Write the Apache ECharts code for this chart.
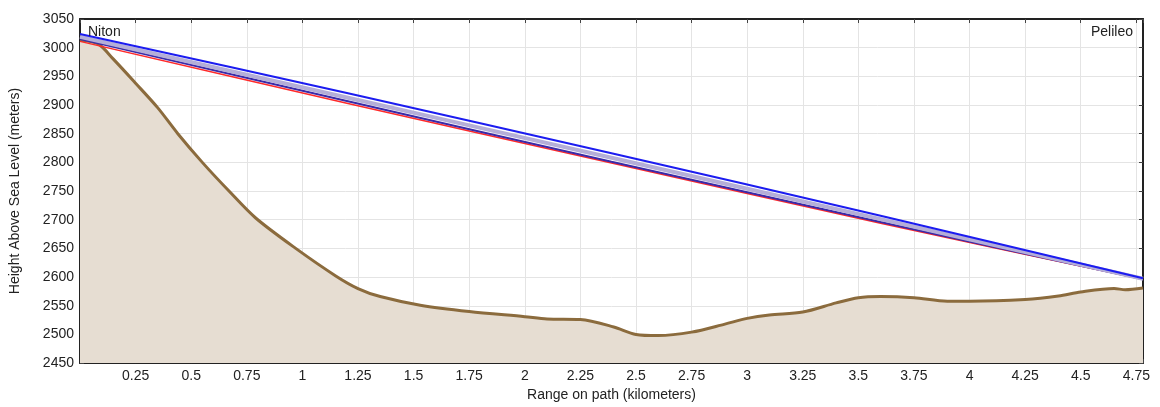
<!DOCTYPE html>
<html>
<head>
<meta charset="utf-8">
<script src="https://cdn.jsdelivr.net/npm/echarts@6/dist/echarts.min.js"></script>
<style>
  html, body { margin: 0; padding: 0; background: #fff; }
  #chart { width: 1160px; height: 407px; }
</style>
</head>
<body>
<div id="chart"></div>
<script>
// terrain profile along the path (km, metres)
const terrainKm = [0, 0.08, 0.15, 0.25, 0.35, 0.44, 0.55, 0.67, 0.79, 0.97, 1.15, 1.25, 1.35, 1.53, 1.75, 2.0, 2.1, 2.25, 2.4, 2.5, 2.6, 2.75, 2.9, 3.0, 3.1, 3.25, 3.4, 3.5, 3.6, 3.75, 3.9, 4.0, 4.25, 4.4, 4.5, 4.65, 4.7, 4.78];
const terrainHeight = [3013, 3007, 2980, 2938, 2895, 2850, 2800, 2750, 2703, 2650, 2602, 2580, 2566, 2551, 2540, 2531, 2527, 2526, 2513, 2500, 2498, 2504, 2518, 2528, 2534, 2539, 2555, 2564, 2566, 2564, 2558, 2558, 2561, 2567, 2574, 2580, 2578, 2581];

// radio path lines, read at five points along the path
const pathKm = [0, 1.2, 2.39, 3.6, 4.78];
const upperBlue = [3024, 2921, 2816, 2707, 2598];
const middleBand = [3019, 2913, 2808, 2701, 2597];
const lowerBlue = [3015, 2907, 2801, 2696, 2596];
const redLine = [3011, 2903, 2799, 2694, 2596];

const siteNames = ['Niton', 'Pelileo'];

const zip = (xs, ys) => xs.map((x, i) => [x, ys[i]]);

const chart = echarts.init(document.getElementById('chart'));

const font = 'Liberation Sans, Arial, sans-serif';
const textStyle = { color: '#222', fontSize: 14, fontFamily: font };

const xLabel = (v) => {
  const r = Math.round(v * 100) / 100;
  if (r === 0) return '';
  if (Math.abs(r / 0.25 - Math.round(r / 0.25)) > 1e-6) return '';
  return String(r);
};

chart.setOption({
  animation: false,
  backgroundColor: '#fff',
  grid: { left: 80, right: 17, top: 19, bottom: 42 },
  xAxis: [
    {
      type: 'value',
      min: 0,
      max: 4.78,
      interval: 0.25,
      name: 'Range on path (kilometers)',
      nameLocation: 'middle',
      nameGap: 24,
      nameTextStyle: textStyle,
      axisLine: { lineStyle: { color: '#222', width: 2 } },
      axisTick: { inside: true, length: 4, lineStyle: { color: '#444' } },
      axisLabel: Object.assign({ margin: 6, formatter: xLabel, showMaxLabel: true }, textStyle),
      splitLine: { show: true, lineStyle: { color: '#e4e4e4', width: 1 } }
    },
    {
      type: 'value',
      position: 'top',
      min: 0,
      max: 4.78,
      interval: 0.25,
      axisLine: { show: true, onZero: false, lineStyle: { color: '#222', width: 2 } },
      axisTick: { inside: true, length: 4, lineStyle: { color: '#444' } },
      axisLabel: { show: false },
      splitLine: { show: false }
    }
  ],
  yAxis: [
    {
      type: 'value',
      min: 2450,
      max: 3050,
      interval: 50,
      name: 'Height Above Sea Level (meters)',
      nameLocation: 'middle',
      nameGap: 58,
      nameTextStyle: textStyle,
      axisLine: { show: true, onZero: false, lineStyle: { color: '#222', width: 2 } },
      axisTick: { show: true, inside: true, length: 4, lineStyle: { color: '#444' } },
      axisLabel: Object.assign({ margin: 6, formatter: (v) => String(v) }, textStyle),
      splitLine: { show: true, lineStyle: { color: '#e4e4e4', width: 1 } }
    },
    {
      type: 'value',
      position: 'right',
      min: 2450,
      max: 3050,
      interval: 50,
      axisLine: { show: true, onZero: false, lineStyle: { color: '#222', width: 2 } },
      axisTick: { show: true, inside: true, length: 4, lineStyle: { color: '#444' } },
      axisLabel: { show: false },
      splitLine: { show: false }
    }
  ],
  series: [
    {
      name: 'Terrain',
      type: 'line',
      data: zip(terrainKm, terrainHeight),
      smooth: 0.3,
      symbol: 'none',
      lineStyle: { color: '#8b6b3d', width: 3 },
      areaStyle: { color: '#e6ddd2', opacity: 1, origin: 'start' },
      z: 2
    },
    {
      name: 'Red',
      type: 'line',
      data: zip(pathKm, redLine),
      smooth: 0.3,
      symbol: 'none',
      lineStyle: { color: '#ff2a2a', width: 1.5 },
      z: 3
    },
    {
      name: 'Lower',
      type: 'line',
      data: zip(pathKm, lowerBlue),
      smooth: 0.3,
      symbol: 'none',
      lineStyle: { color: '#3a2aa8', width: 2 },
      z: 4
    },
    {
      name: 'Band',
      type: 'line',
      data: zip(pathKm, middleBand),
      smooth: 0.3,
      symbol: 'none',
      lineStyle: { color: '#b4aed8', width: 4 },
      z: 4
    },
    {
      name: 'Upper',
      type: 'line',
      data: zip(pathKm, upperBlue),
      smooth: 0.3,
      symbol: 'none',
      lineStyle: { color: '#1c1cf0', width: 2 },
      z: 5
    }
  ],
  graphic: [
    { type: 'text', left: 88, top: 25, z: 10, style: { text: siteNames[0], fill: '#222', font: '14px ' + font } },
    { type: 'text', right: 27, top: 25, z: 10, style: { text: siteNames[1], fill: '#222', font: '14px ' + font } }
  ]
});
</script>
</body>
</html>
